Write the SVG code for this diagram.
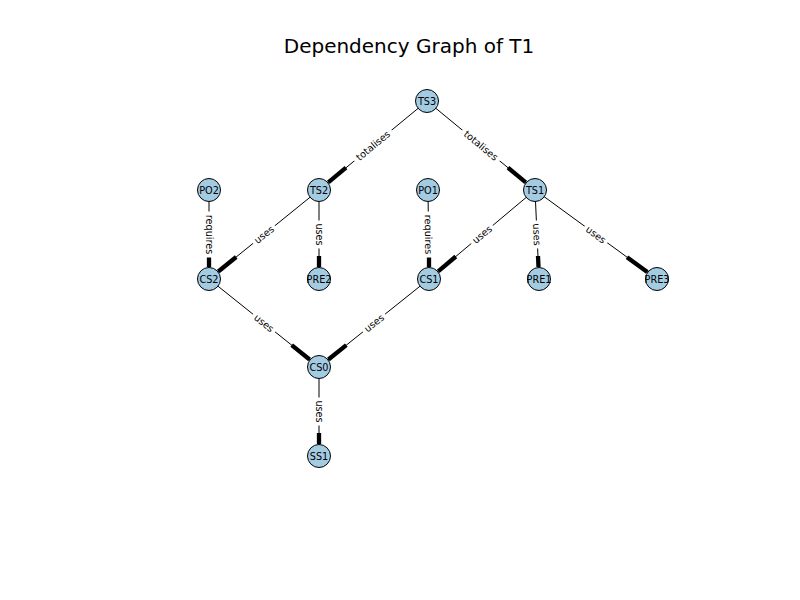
<svg xmlns="http://www.w3.org/2000/svg" width="800" height="600" viewBox="0 0 800 600">
<style>
.bg{fill:#ffffff}
.title{font-family:"DejaVu Sans",sans-serif;font-size:20px;fill:#000;text-anchor:middle}
.edge{stroke:#000;stroke-width:1;fill:none}
.head{stroke:#000;stroke-width:4.3;fill:none}
.lbox{fill:#ffffff}
.lbl{font-family:"DejaVu Sans",sans-serif;font-size:9.7px;fill:#000;text-anchor:middle;dominant-baseline:central}
.node circle{fill:#a3cbe2;stroke:#000;stroke-width:1}
.node text{font-family:"DejaVu Sans",sans-serif;font-size:9.7px;fill:#000;text-anchor:middle;dominant-baseline:central}
</style>
<rect class="bg" x="0" y="0" width="800" height="600"/>
<text class="title" x="409" y="53">Dependency Graph of T1</text>
<g id="connectors">
  <line class="edge" x1="427" y1="101" x2="319" y2="190"/>
  <line class="head" x1="328.3" y1="182.4" x2="346.0" y2="167.7"/>
  <line class="edge" x1="427" y1="101" x2="535" y2="190"/>
  <line class="head" x1="525.7" y1="182.4" x2="508.0" y2="167.7"/>
  <line class="edge" x1="319" y1="190" x2="209" y2="279"/>
  <line class="head" x1="218.3" y1="271.5" x2="236.2" y2="257.0"/>
  <line class="edge" x1="319" y1="190" x2="319" y2="279"/>
  <line class="head" x1="319" y1="267" x2="319" y2="256"/>
  <line class="edge" x1="209" y1="190" x2="209" y2="279"/>
  <line class="head" x1="209" y1="267" x2="209" y2="256"/>
  <line class="edge" x1="428" y1="190" x2="429" y2="279"/>
  <line class="head" x1="429" y1="267" x2="429" y2="256"/>
  <line class="edge" x1="535" y1="190" x2="429" y2="279"/>
  <line class="head" x1="438.2" y1="271.3" x2="455.8" y2="256.5"/>
  <line class="edge" x1="535" y1="190" x2="539" y2="279"/>
  <line class="head" x1="538.5" y1="267" x2="538" y2="256"/>
  <line class="edge" x1="535" y1="190" x2="657" y2="279"/>
  <line class="head" x1="647.3" y1="271.9" x2="627.0" y2="257.2"/>
  <line class="edge" x1="209" y1="279" x2="319" y2="367"/>
  <line class="head" x1="309.6" y1="359.5" x2="291.7" y2="345.1"/>
  <line class="edge" x1="429" y1="279" x2="319" y2="367"/>
  <line class="head" x1="328.4" y1="359.5" x2="346.3" y2="345.1"/>
  <line class="edge" x1="319" y1="367" x2="319" y2="456"/>
  <line class="head" x1="319" y1="444" x2="319" y2="433"/>
  <g transform="translate(373,145.5) rotate(-39.5)"><rect class="lbox" x="-24" y="-6" width="48" height="12"/><text class="lbl" x="0" y="0">totalises</text></g>
  <g transform="translate(481,145.5) rotate(39.5)"><rect class="lbox" x="-24" y="-6" width="48" height="12"/><text class="lbl" x="0" y="0">totalises</text></g>
  <g transform="translate(264,234.5) rotate(-39)"><rect class="lbox" x="-14" y="-6" width="28" height="12"/><text class="lbl" x="0" y="0">uses</text></g>
  <g transform="translate(319,234.5) rotate(90)"><rect class="lbox" x="-14" y="-6" width="28" height="12"/><text class="lbl" x="0" y="0">uses</text></g>
  <g transform="translate(209,234.5) rotate(90)"><rect class="lbox" x="-23" y="-6" width="46" height="12"/><text class="lbl" x="0" y="0">requires</text></g>
  <g transform="translate(428.5,234.5) rotate(89.4)"><rect class="lbox" x="-23" y="-6" width="46" height="12"/><text class="lbl" x="0" y="0">requires</text></g>
  <g transform="translate(482,234.5) rotate(-40)"><rect class="lbox" x="-14" y="-6" width="28" height="12"/><text class="lbl" x="0" y="0">uses</text></g>
  <g transform="translate(537,234.5) rotate(87.4)"><rect class="lbox" x="-14" y="-6" width="28" height="12"/><text class="lbl" x="0" y="0">uses</text></g>
  <g transform="translate(596,234.5) rotate(36.1)"><rect class="lbox" x="-14" y="-6" width="28" height="12"/><text class="lbl" x="0" y="0">uses</text></g>
  <g transform="translate(264,323) rotate(38.7)"><rect class="lbox" x="-14" y="-6" width="28" height="12"/><text class="lbl" x="0" y="0">uses</text></g>
  <g transform="translate(374,323) rotate(-38.7)"><rect class="lbox" x="-14" y="-6" width="28" height="12"/><text class="lbl" x="0" y="0">uses</text></g>
  <g transform="translate(319,411.5) rotate(90)"><rect class="lbox" x="-14" y="-6" width="28" height="12"/><text class="lbl" x="0" y="0">uses</text></g>
</g>
<g id="TS3" class="node"><circle cx="427" cy="101" r="11.5"/><text x="427" y="101">TS3</text></g>
<g id="TS2" class="node"><circle cx="319" cy="190" r="11.5"/><text x="319" y="190">TS2</text></g>
<g id="PO2" class="node"><circle cx="209" cy="190" r="11.5"/><text x="209" y="190">PO2</text></g>
<g id="PO1" class="node"><circle cx="428" cy="190" r="11.5"/><text x="428" y="190">PO1</text></g>
<g id="TS1" class="node"><circle cx="535" cy="190" r="11.5"/><text x="535" y="190">TS1</text></g>
<g id="CS2" class="node"><circle cx="209" cy="279" r="11.5"/><text x="209" y="279">CS2</text></g>
<g id="PRE2" class="node"><circle cx="319" cy="279" r="11.5"/><text x="319" y="279">PRE2</text></g>
<g id="CS1" class="node"><circle cx="429" cy="279" r="11.5"/><text x="429" y="279">CS1</text></g>
<g id="PRE1" class="node"><circle cx="539" cy="279" r="11.5"/><text x="539" y="279">PRE1</text></g>
<g id="PRE3" class="node"><circle cx="657" cy="279" r="11.5"/><text x="657" y="279">PRE3</text></g>
<g id="CS0" class="node"><circle cx="319" cy="367" r="11.5"/><text x="319" y="367">CS0</text></g>
<g id="SS1" class="node"><circle cx="319" cy="456" r="11.5"/><text x="319" y="456">SS1</text></g>
</svg>
